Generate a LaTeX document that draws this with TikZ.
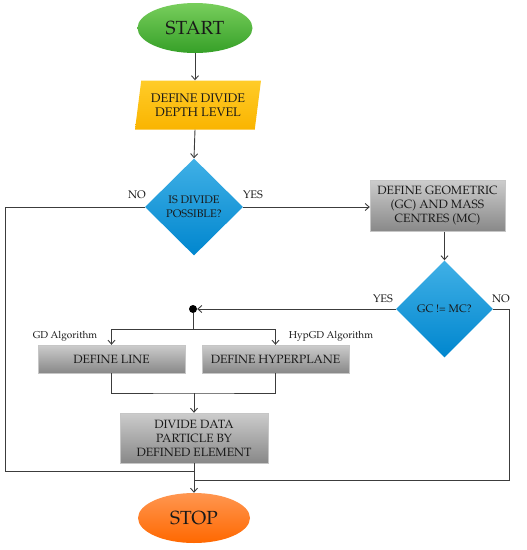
\documentclass[tikz,border=0pt]{standalone}
\usepackage[T1]{fontenc}
\usepackage{mathpazo}
\usepackage{xcolor}
\usetikzlibrary{shapes.geometric,arrows.meta}
\definecolor{greentop}{RGB}{120,206,92}
\definecolor{greenbot}{RGB}{54,160,40}
\definecolor{yellowtop}{RGB}{255,204,40}
\definecolor{yellowbot}{RGB}{250,180,0}
\definecolor{bluetop}{RGB}{64,176,230}
\definecolor{bluebot}{RGB}{0,134,206}
\definecolor{greytop}{RGB}{204,204,204}
\definecolor{greybot}{RGB}{136,136,136}
\definecolor{orangetop}{RGB}{255,150,80}
\definecolor{orangebot}{RGB}{255,104,0}
\definecolor{wire}{RGB}{60,60,60}
\tikzset{
	terminal/.style={ellipse, minimum width=#1, minimum height=50pt, inner sep=0pt, font=\fontsize{19}{21}\selectfont},
	inputbox/.style={trapezium, trapezium left angle=78, trapezium right angle=102, trapezium stretches body,
			minimum width=126pt, minimum height=49pt, top color=yellowtop, bottom color=yellowbot,
			align=center, font=\fontsize{12.5}{14}\selectfont},
	decision/.style={diamond, minimum width=#1, minimum height=97pt, inner sep=0pt, top color=bluetop,
			bottom color=bluebot, align=center, font=\fontsize{11}{14}\selectfont},
	process/.style={rectangle, draw=gray!45, top color=greytop, bottom color=greybot, align=center,
			minimum height=#1, inner sep=1pt, font=\fontsize{12}{14}\selectfont},
	flow/.style={draw=wire, line width=0.9pt, -{Straight Barb[length=4pt,width=7pt]}},
	wirec/.style={draw=wire, line width=0.9pt},
	tag/.style={font=\fontsize{11}{12}\selectfont},
	algtag/.style={font=\fontsize{10}{11}\selectfont}
}

\begin{document}
\begin{tikzpicture}[x=1pt, y=-1pt, text=black!90]
		\useasboundingbox (0,0) rectangle (527,550);

		\node[terminal=115pt, top color=greentop, bottom color=greenbot] (start) at (195,28) {START};
		\node[inputbox] (depth) at (198,105) {DEFINE DIVIDE\\DEPTH LEVEL};
		\node[decision=98pt] (div) at (194,207) {IS DIVIDE\\POSSIBLE?};
		\node[process=51pt, minimum width=135pt] (centres) at (437.5,206) {DEFINE GEOMETRIC\\(GC) AND MASS\\CENTRES (MC)};
		\node[decision=97pt] (gc) at (444.5,309) {GC != MC?};
		\node[circle, fill=black, inner sep=0pt, minimum size=8pt] (dot) at (193,309) {};
		\node[process=28pt, minimum width=147pt] (line) at (111.5,359) {DEFINE LINE};
		\node[process=28pt, minimum width=147pt] (hyper) at (275.5,359) {DEFINE HYPERPLANE};
		\node[process=50pt, minimum width=148pt] (divide) at (194,438) {DIVIDE DATA\\PARTICLE BY\\DEFINED ELEMENT};
		\node[terminal=112pt, top color=orangetop, bottom color=orangebot] (stop) at (194,518) {STOP};

		\node[tag] (no1) at (137,195) {NO};
		\node[tag] (yes1) at (253,195) {YES};
		\node[tag] (yes2) at (383,299) {YES};
		\node[tag] (no2) at (501,299) {NO};
		\node[algtag] (gdtag) at (65,336) {GD Algorithm};
		\node[algtag] (hyptag) at (331,336) {HypGD Algorithm};

		\coordinate (lftbot) at (5,471);
		\coordinate (rgtbot) at (509,480);
		\coordinate (join) at (194,393);

		\draw[flow] (start.south) -- (start.south |- depth.north);
		\draw[flow] (start.south |- depth.south) -- (div.north);
		\draw[flow] (div.east) -- (div.east -| centres.west);
		\draw[flow] (gc.north |- centres.south) -- (gc.north);
		\draw[flow] (gc.west) -- (dot);
		\draw[flow] (dot) -- ++(0,20) -| (line.north);
		\draw[flow] (dot) -- ++(0,20) -| (hyper.north);
		\draw[wirec] (line.south) |- (join) -| (hyper.south);
		\draw[flow] (join) -- (divide.north);
		\draw[flow] (divide.south) -- (stop.north);
		\draw[wirec] (div.west) -| (lftbot) -- (lftbot -| divide.south);
		\draw[wirec] (gc.east) -| (rgtbot) -- (rgtbot -| divide.south);
	\end{tikzpicture}
\end{document}
